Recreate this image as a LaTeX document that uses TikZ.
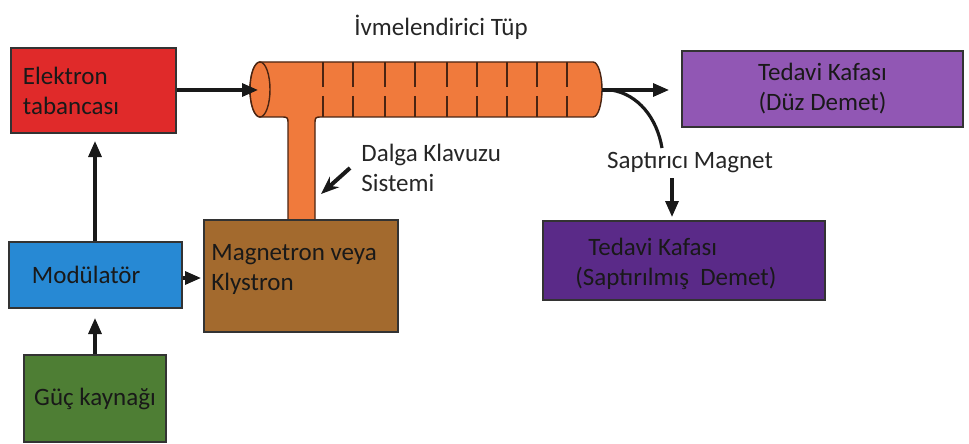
\documentclass[tikz,border=0pt]{standalone}
\usepackage{fontspec}
\setmainfont{Carlito}
\usetikzlibrary{arrows.meta}
\definecolor{gunred}{HTML}{E02A2A}
\definecolor{modblue}{HTML}{2789D4}
\definecolor{pwrgreen}{HTML}{4E7E34}
\definecolor{magbrown}{HTML}{A36A2E}
\definecolor{tubeorange}{HTML}{F07A3C}
\definecolor{headlight}{HTML}{9157B4}
\definecolor{headdark}{HTML}{5A2A88}
\definecolor{tubeedge}{HTML}{4A2412}
\begin{document}
\begin{tikzpicture}[x=0.5pt,y=0.5pt,
  box/.style={draw=black!80,line width=1pt,inner sep=0pt,
    font=\fontsize{12.5}{15}\selectfont,text=black!90},
  lbl/.style={inner sep=0pt,font=\fontsize{12.5}{15}\selectfont,text=black!85},
  arr/.style={draw=black!90,line width=1.6pt,-{Triangle[length=8pt,width=6.5pt]}},
  beam/.style={draw=black!90,line width=1.6pt},
  tubeline/.style={draw=tubeedge,line width=0.7pt},
  divider/.style={draw=tubeedge,line width=1pt}]
\useasboundingbox (0,0) rectangle (969,-444);

% accelerating tube with its waveguide stem
\path[tubeline,fill=tubeorange]
  (260,-62) -- (593,-62)
  arc[start angle=90,end angle=-90,x radius=4.5pt,y radius=13.75pt]
  -- (320,-117) .. controls (316,-117) and (315,-118) .. (315,-122)
  -- (315,-220) -- (288,-220) -- (288,-122)
  .. controls (288,-118) and (287,-117) .. (283,-117)
  -- (260,-117)
  arc[start angle=270,end angle=90,x radius=5pt,y radius=13.75pt] -- cycle;
\path[tubeline,fill=tubeorange] (260,-89.5) ellipse[x radius=5pt,y radius=13.75pt];
\foreach \dx in {323,353,385,415,447,477,507,537,567}{
  \draw[divider] (\dx,-62) -- (\dx,-87);
  \draw[divider] (\dx,-96) -- (\dx,-117);
}
\coordinate (tubein) at (258,-90);
\coordinate (tubeout) at (602,-90);

% blocks
\node[box,fill=gunred,minimum width=82.5pt,minimum height=42.5pt,
  inner xsep=6pt,text width=70.5pt,align=left] (elek) at (93.5,-90.5)
  {Elektron\\tabancası};
\node[box,fill=modblue,minimum width=86.5pt,minimum height=33pt,
  inner xsep=11.5pt,text width=63.5pt,align=left] (mod) at (95.5,-275)
  {Modülatör};
\node[box,fill=pwrgreen,minimum width=71pt,minimum height=43.5pt] (guc)
  at (95,-398.5) {Güç kaynağı};
\node[box,fill=magbrown,minimum width=97pt,minimum height=56pt] (mag)
  at (301,-276) {};
\node[lbl,anchor=west,align=left,text=black!90] (magtxt) at (211,-269)
  {Magnetron veya\\Klystron};
\node[box,fill=headlight,minimum width=140.5pt,minimum height=38pt,align=center]
  (duz) at (822.5,-89) {Tedavi Kafası\\(Düz Demet)};
\node[box,fill=headdark,minimum width=141pt,minimum height=39.5pt] (sap)
  at (684,-260.5) {};
\node[lbl,anchor=west,align=left,text=black!90] (saptxt) at (575,-264)
  {\hspace*{6.5pt}Tedavi Kafası\\(Saptırılmış~ Demet)};

% labels
\node[lbl] (ivme) at (441,-27) {İvmelendirici Tüp};
\node[lbl,anchor=west,align=left] (dalga) at (361,-168) {Dalga Klavuzu\\Sistemi};
\node[lbl] (smag) at (690,-163) {Saptırıcı Magnet};

% connectors
\draw[arr] (elek.east |- tubein) -- (tubein);
\draw[arr] (mod.north -| 95,0) -- ([yshift=-3.5pt]elek.south -| 95,0);
\draw[arr] (guc.north) -- ([yshift=-4.5pt]mod.south -| guc.north);
\draw[arr] (mod.east |- 0,-278) -- ([xshift=-1pt]mag.west |- 0,-278);
\coordinate (wgtail) at (350,-168);
\coordinate (wgtip) at (321,-194);
\draw[arr,line width=2pt,-{Stealth[length=9pt,width=7pt]}] (wgtail) -- (wgtip);
\draw[arr] (tubeout) -- ([xshift=-6pt]duz.west |- tubeout);
\coordinate (bendstart) at (611,-90);
\coordinate (bendend) at (662,-148);
\draw[beam] (bendstart) .. controls (638,-94) and (657,-118) .. (bendend);
\coordinate (s1) at (672,-178);
\draw[arr] (s1) -- ([yshift=1.5pt]s1 |- sap.north);
\end{tikzpicture}
\end{document}
